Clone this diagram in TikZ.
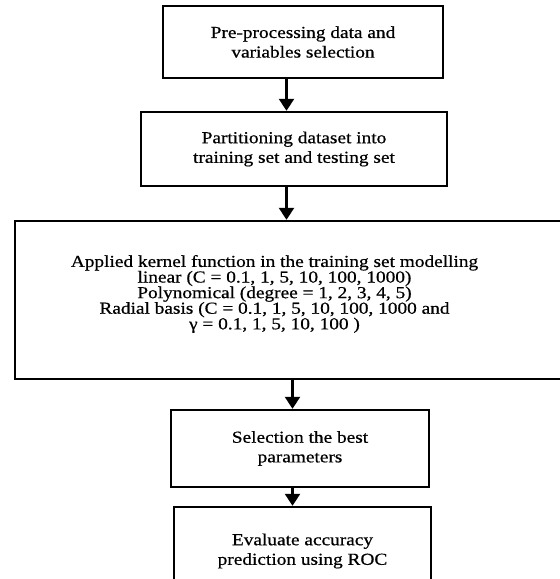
\documentclass[tikz,border=0pt]{standalone}
\usepackage{fontspec}
\setmainfont{Liberation Serif}[FakeStretch=1.15, FakeBold=0.6]
\usetikzlibrary{arrows.meta}

\begin{document}
\begin{tikzpicture}[x=0.5pt, y=-0.5pt,
  stepbox/.style={draw, line width=1.2pt, inner sep=0pt, align=center,
    font=\fontsize{8.4}{9.8}\selectfont},
  flowarrow/.style={line width=1.2pt, -{Triangle[width=7.5pt, length=6pt]}}]
 \useasboundingbox (0,0) rectangle (560,579);
 \clip (0,0) rectangle (560,579);
 \node [stepbox, minimum width=140pt, minimum height=36pt] (prep) at (303, 42) {Pre-processing data and\\variables selection};
 \node [stepbox, minimum width=153pt, minimum height=37pt] (part) at (294, 149) {Partitioning dataset into\\training set and testing set};
 \node [stepbox, minimum width=292.5pt, minimum height=79pt] (kern) at (307.5, 300) {};
 \node [align=center, inner sep=0pt, font=\fontsize{8.4}{7.8}\selectfont,
   execute at begin node={\lineskiplimit=-5pt\relax}] (kernlbl) at (274.5, 294) {Applied kernel function in the training set modelling\\linear (C = 0.1, 1, 5, 10, 100, 1000)\\Polynomical (degree = 1, 2, 3, 4, 5)\\Radial basis (C = 0.1, 1, 5, 10, 100, 1000 and\\γ = 0.1, 1, 5, 10, 100 )};
 \node [stepbox, minimum width=129pt, minimum height=38.5pt] (sel) at (300, 448.5) {Selection the best\\parameters};
 \node [stepbox, minimum width=128.5pt, minimum height=44pt] (eval) at (302.5, 551) {Evaluate accuracy\\prediction using ROC};
 \draw [flowarrow] ([xshift=-8.25pt]prep.south) -- ([xshift=-3.75pt]part.north);
 \draw [flowarrow] ([xshift=-3.75pt]part.south) -- ([xshift=-10.5pt]kern.north);
 \draw [flowarrow] ([xshift=-7.5pt]kern.south) -- ([xshift=-3.75pt]sel.north);
 \draw [flowarrow] ([xshift=-3.75pt]sel.south) -- ([xshift=-5pt]eval.north);
\end{tikzpicture}
\end{document}
